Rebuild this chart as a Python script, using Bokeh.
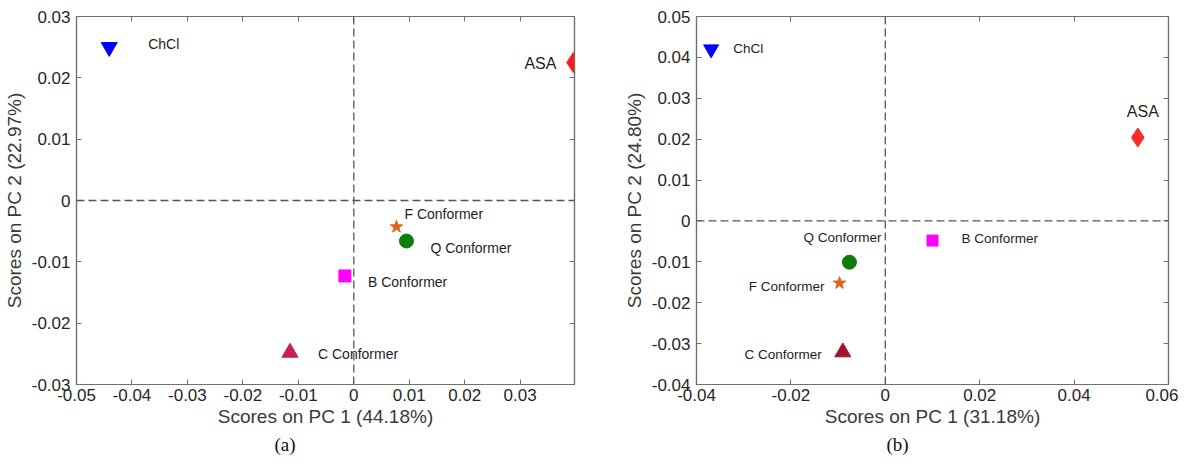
from bokeh.plotting import figure
from bokeh.layouts import row
from bokeh.models import (FixedTicker, Span, Title, LinearAxis, CustomJSTickFormatter,
                          Range1d, ColumnDataSource)
from bokeh.embed import file_html
from bokeh.resources import INLINE
from bokeh.core.properties import value

# ---------------- data ----------------
names = ["ChCl", "ASA", "F Conformer", "Q Conformer", "B Conformer", "C Conformer"]

pc1_a = [-0.0441, 0.0396, 0.0077, 0.0095, -0.0016, -0.0115]
pc2_a = [0.0250, 0.0225, -0.0043, -0.0066, -0.0123, -0.0248]

pc1_b = [-0.0369, 0.0535, -0.0097, -0.0076, 0.0100, -0.0090]
pc2_b = [0.0420, 0.0204, -0.0152, -0.0101, -0.0048, -0.0321]

xticks_a = [-0.05, -0.04, -0.03, -0.02, -0.01, 0.0, 0.01, 0.02, 0.03]
yticks_a = [-0.03, -0.02, -0.01, 0.0, 0.01, 0.02, 0.03]
xticks_b = [-0.04, -0.02, 0.0, 0.02, 0.04, 0.06]
yticks_b = [-0.04, -0.03, -0.02, -0.01, 0.0, 0.01, 0.02, 0.03, 0.04, 0.05]

xlabel_a = "Scores on PC 1 (44.18%)"
ylabel_a = "Scores on PC 2 (22.97%)"
xlabel_b = "Scores on PC 1 (31.18%)"
ylabel_b = "Scores on PC 2 (24.80%)"
panel_a = "(a)"
panel_b = "(b)"

# ---------------- styles ----------------
markers = ["inverted_triangle", "diamond", "star", "circle", "square", "triangle"]
colors_a = ["#0000ff", "#ff1a1a", "#e0601f", "#0a7d0a", "#ff00ff", "#c81e5a"]
colors_b = ["#0000ff", "#ff2a2a", "#e0601f", "#0a7d0a", "#ff00ff", "#a3122f"]
sizes_a = [16, 20, 13, 14, 12, 16]
sizes_b = [15, 19, 13, 14, 11, 16]

# label placement (screen px offsets from each point)
xoff_a = [39, -17, 8, 24, 23, 28]
yoff_a = [-3, 1, -13, 7, 6, 1]
align_a = ["left", "right", "left", "left", "left", "left"]
fs_a = ["14px", "16px", "14px", "14px", "14px", "14px"]

xoff_b = [22, 5, -15, 32, 29, -21]
yoff_b = [-1, -26, 3, -25, -2, 2]
align_b = ["left", "center", "right", "right", "left", "right"]
fs_b = ["13.5px", "16px", "13.5px", "13.5px", "13.5px", "13.5px"]

FONT = "Liberation Sans"
AXIS_COL = "#707070"
TXT_COL = "#262626"

fmt = CustomJSTickFormatter(code="return String(Math.round(tick*100)/100);")


def make_panel(xs, ys, xticks, yticks, xr, yr, xlabel, ylabel, colors, sizes,
               xoff, yoff, align, fs, width, height, mbl, mbr, mbt, mbb, tag, tag_off):
    p = figure(width=width, height=height, output_backend="svg", toolbar_location=None,
               x_range=Range1d(*xr), y_range=Range1d(*yr),
               min_border_left=mbl, min_border_right=mbr,
               min_border_top=mbt, min_border_bottom=mbb)
    p.grid.visible = False
    p.outline_line_color = AXIS_COL
    p.outline_line_width = 1.2
    p.background_fill_color = "white"
    p.border_fill_color = "white"

    for ax, ticks in ((p.xaxis[0], xticks), (p.yaxis[0], yticks)):
        ax.ticker = FixedTicker(ticks=ticks)
        ax.formatter = fmt
        ax.major_tick_in = 5
        ax.major_tick_out = 0
        ax.minor_tick_line_color = None
        ax.axis_line_color = AXIS_COL
        ax.axis_line_width = 1.2
        ax.major_tick_line_color = AXIS_COL
        ax.major_label_text_font = FONT
        ax.major_label_text_font_size = "17px"
        ax.major_label_text_color = TXT_COL
        ax.axis_label_text_font = FONT
        ax.axis_label_text_font_size = "19px"
        ax.axis_label_text_font_style = "normal"
        ax.axis_label_text_color = "#3a3a3a"
    p.xaxis[0].axis_label = xlabel
    p.yaxis[0].axis_label = ylabel
    p.xaxis[0].major_label_standoff = 4
    p.xaxis[0].axis_label_standoff = 2
    p.yaxis[0].major_label_standoff = 6
    p.yaxis[0].axis_label_standoff = 4

    # mirror ticks on top and right
    for loc, ticks in (("above", xticks), ("right", yticks)):
        ax = LinearAxis(ticker=FixedTicker(ticks=ticks),
                        formatter=CustomJSTickFormatter(code="return '';"),
                        major_tick_in=5, major_tick_out=0,
                        minor_tick_line_color=None,
                        axis_line_color=AXIS_COL, axis_line_width=1.2,
                        major_tick_line_color=AXIS_COL,
                        major_label_text_font_size="0px",
                        major_label_standoff=0)
        p.add_layout(ax, loc)

    p.add_layout(Span(location=0, dimension="height", line_color="#555555",
                      line_dash="8 4", line_width=1.3))
    p.add_layout(Span(location=0, dimension="width", line_color="#555555",
                      line_dash="8 4", line_width=1.3))

    src = ColumnDataSource(dict(x=xs, y=ys, name=names, marker=markers, color=colors,
                                size=sizes, xo=xoff, yo=yoff, al=align, fs=fs))
    p.scatter("x", "y", source=src, marker="marker", size="size",
              fill_color="color", line_color="color", line_width=1)
    p.text("x", "y", text="name", source=src, x_offset="xo", y_offset="yo",
           text_align="al", text_baseline="middle", text_font=value(FONT),
           text_font_size="fs", text_color="#1e1e1e")

    p.add_layout(Title(text=tag, align="left", offset=tag_off, standoff=4,
                       text_font="Liberation Serif", text_font_size="19px",
                       text_font_style="normal", text_color="#111111"), "below")
    return p


p1 = make_panel(pc1_a, pc2_a, xticks_a, yticks_a, (-0.05, 0.0398), (-0.03, 0.03),
                xlabel_a, ylabel_a, colors_a, sizes_a, xoff_a, yoff_a, align_a, fs_a,
                width=620, height=458, mbl=71, mbr=46, mbt=13, mbb=74,
                tag=panel_a, tag_off=198)
p2 = make_panel(pc1_b, pc2_b, xticks_b, yticks_b, (-0.04, 0.06), (-0.04, 0.05),
                xlabel_b, ylabel_b, colors_b, sizes_b, xoff_b, yoff_b, align_b, fs_b,
                width=558, height=458, mbl=65, mbr=10, mbt=16, mbb=74,
                tag=panel_b, tag_off=190)

layout = row(p1, p2)
open("out.html", "w").write(file_html(layout, INLINE))
